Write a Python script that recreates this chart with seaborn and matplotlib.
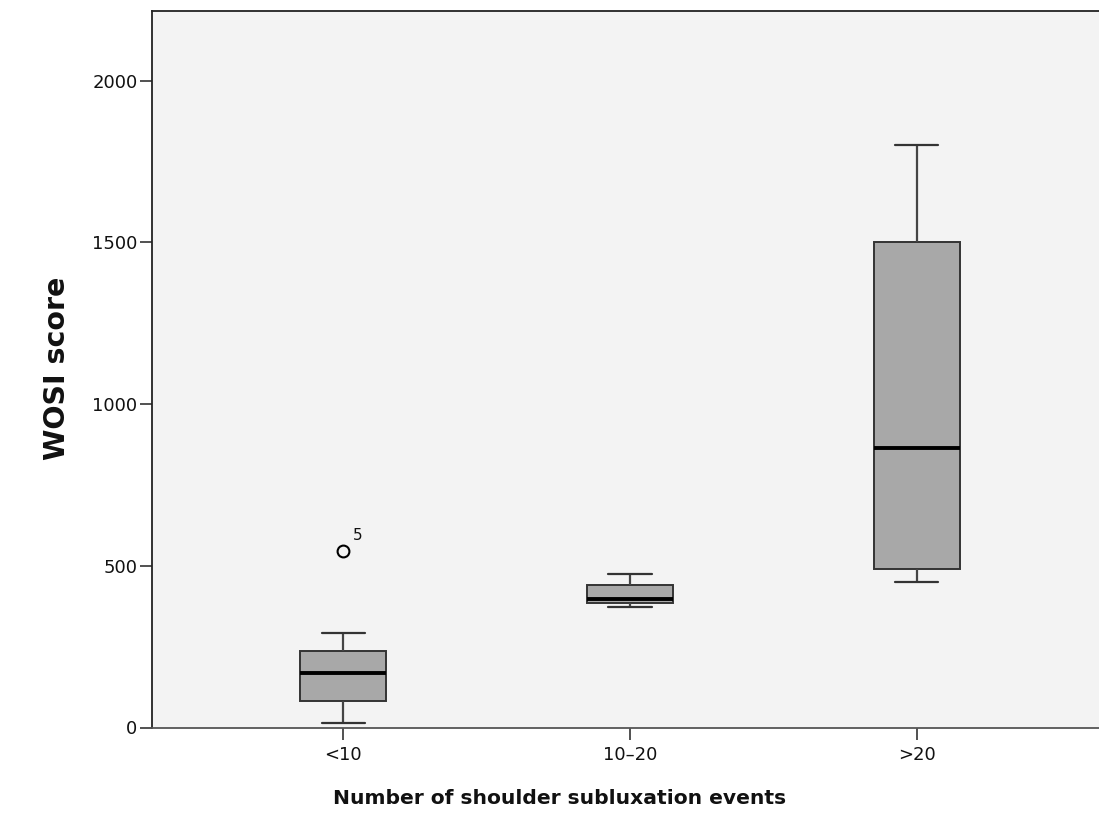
import matplotlib
matplotlib.use("Agg")
import matplotlib.pyplot as plt
import seaborn as sns
import pandas as pd

# ---- data ----
categories = ["<10", "10\u201320", ">20"]
scores_lt10 = [15, 50, 83, 83, 167, 167, 236, 236, 291, 547]
scores_10_20 = [372, 386, 398, 440, 475]
scores_gt20 = [450, 490, 863, 1500, 1800]
outlier_label = "5"
y_ticks = [0, 500, 1000, 1500, 2000]

groups = [scores_lt10, scores_10_20, scores_gt20]
df = pd.DataFrame({
    "group": [c for c, g in zip(categories, groups) for _ in g],
    "score": [v for g in groups for v in g],
})

sns.set_style("ticks", {"axes.facecolor": "#f3f3f3"})
plt.rcParams["font.family"] = ["DejaVu Sans"]

W, H = 1099, 826
fig = plt.figure(figsize=(W / 100, H / 100), dpi=100)
ax = fig.add_axes([152 / W, 1 - 727.5 / H, (1108 - 152) / W, (727.5 - 11) / H])

sns.boxplot(
    data=df, x="group", y="score", order=categories, ax=ax,
    color="#a8a8a8", saturation=1, width=0.3,
    linecolor="#333333", linewidth=1.4,
    medianprops=dict(color="black", linewidth=2.8),
    whiskerprops=dict(color="#444444", linewidth=1.6),
    capprops=dict(color="#333333", linewidth=1.6),
    flierprops=dict(marker="o", markerfacecolor="none", markeredgecolor="black",
                    markeredgewidth=1.5, markersize=8.5),
)

# outlier case label
ax.annotate(outlier_label, xy=(0, max(scores_lt10)), xytext=(10, 8),
            textcoords="offset pixels", fontsize=11, ha="left", va="bottom",
            color="#111111")

ax.set_xlim(-0.666, 2.666)
ax.set_ylim(0, 2215)
ax.set_yticks(y_ticks)
ax.tick_params(axis="both", direction="out", length=8.5, width=1.2,
               color="#333333", labelsize=13, labelcolor="#111111")
ax.tick_params(axis="x", pad=5)
ax.tick_params(axis="y", pad=2)

for side in ["left", "top", "right"]:
    ax.spines[side].set_color("#222222")
    ax.spines[side].set_linewidth(1.3)
    ax.spines[side].set_visible(True)
ax.spines["bottom"].set_color("#555555")
ax.spines["bottom"].set_linewidth(1.3)

ax.set_xlabel("Number of shoulder subluxation events", fontsize=14.6,
              fontweight="bold", color="#111111")
ax.set_ylabel("WOSI score", fontsize=20.5, fontweight="bold", color="#111111")
ax.xaxis.label.set_va("center")
ax.yaxis.label.set_va("center")
ax.xaxis.set_label_coords((560 - 152) / (1108 - 152), -(798 - 727.5) / 716.5)
ax.yaxis.set_label_coords(-(152 - 57) / (1108 - 152), (727.5 - 368) / 716.5)

fig.savefig("out.png", dpi=100, facecolor="white")
